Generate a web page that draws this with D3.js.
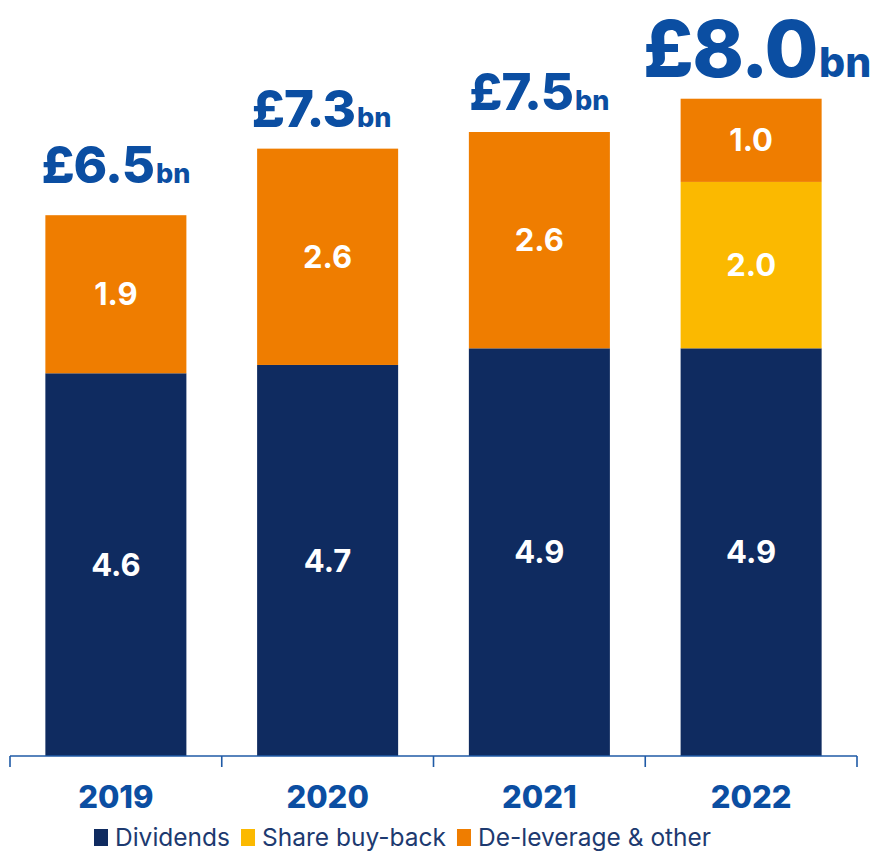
<!DOCTYPE html>
<html>
<head>
<meta charset="utf-8">
<script src="https://cdn.jsdelivr.net/npm/d3@7"></script>
<style>
  html, body { margin: 0; padding: 0; background: #fff; }
  svg { display: block; font-family: Inter, "Open Sans", sans-serif; }
</style>
</head>
<body>
<svg id="chart" width="885" height="853"></svg>
<script>
// Shareholder returns by year (£bn)
const years = ["2019", "2020", "2021", "2022"];
const dividends = [4.6, 4.7, 4.9, 4.9];
const buyback = [0, 0, 0, 2.0];
const deleverage = [1.9, 2.6, 2.6, 1.0];
const totals = ["£6.5", "£7.3", "£7.5", "£8.0"];
const seriesNames = ["Dividends", "Share buy-back", "De-leverage & other"];
const seriesColors = ["#0F2B60", "#FBB900", "#EF7D00"];

const svg = d3.select("#chart");
const baseY = 756;

const x = d3.scaleBand().domain(years).range([10, 857]).padding(0);
const barW = x.step() * 0.666;
const y = d3.scaleLinear().domain([0, 8]).range([baseY, baseY - 8 * 83.2]);

const rows = years.map((yr, i) => ({
  year: yr, Dividends: dividends[i], "Share buy-back": buyback[i], "De-leverage & other": deleverage[i]
}));
const stack = d3.stack().keys(seriesNames)(rows);
const color = d3.scaleOrdinal().domain(seriesNames).range(seriesColors);

const layers = svg.append("g").selectAll("g").data(stack).join("g")
  .attr("fill", d => color(d.key));

layers.selectAll("rect").data(d => d.filter(s => s[1] - s[0] > 0)).join("rect")
  .attr("x", d => x(d.data.year) + (x.step() - barW) / 2)
  .attr("width", barW)
  .attr("y", d => y(d[1]))
  .attr("height", d => y(d[0]) - y(d[1]));

// segment values
layers.selectAll("text").data(d => d.filter(s => s[1] - s[0] > 0)).join("text")
  .attr("x", d => x(d.data.year) + x.step() / 2)
  .attr("y", d => (y(d[0]) + y(d[1])) / 2)
  .attr("dy", "0.36em")
  .attr("text-anchor", "middle")
  .attr("fill", "#fff")
  .attr("font-size", 31)
  .attr("font-weight", 700)
  .text(d => (d[1] - d[0]).toFixed(1));

// axis baseline with ticks on the band edges
const axis = svg.append("g").attr("stroke", "#1F5AA6").attr("stroke-width", 1.6);
axis.append("line").attr("x1", 10).attr("x2", 857).attr("y1", baseY).attr("y2", baseY);
const edges = years.map(v => x(v)).concat([x(years[years.length - 1]) + x.step()]);
axis.selectAll("line.tick").data(edges).join("line").attr("class", "tick")
  .attr("x1", d => d).attr("x2", d => d).attr("y1", baseY).attr("y2", baseY + 11);

// year labels
svg.append("g").selectAll("text").data(years).join("text")
  .attr("x", d => x(d) + x.step() / 2)
  .attr("y", 808)
  .attr("text-anchor", "middle")
  .attr("fill", "#0B4EA2")
  .attr("font-size", 31)
  .attr("font-weight", 800)
  .text(d => d);

// total labels above each bar; the latest year is emphasised
const totalVals = years.map((_, i) => dividends[i] + buyback[i] + deleverage[i]);
const last = years.length - 1;
const tl = svg.append("g").selectAll("text").data(years).join("text")
  .attr("x", (d, i) => x(d) + x.step() / 2 + (i === last ? 6 : (i === 1 ? -6 : 0)))
  .attr("y", (d, i) => y(totalVals[i]) - (i === last ? 22 : (i === 0 ? 32 : 22)))
  .attr("text-anchor", "middle")
  .attr("fill", "#0B4EA2")
  .attr("font-weight", 800);
tl.append("tspan").attr("font-size", (d, i) => i === last ? 78 : 51)
  .attr("letter-spacing", (d, i) => i === last ? -1.5 : -1).text((d, i) => totals[i]);
tl.append("tspan").attr("dx", 2).attr("font-size", (d, i) => i === last ? 41 : 27).text("bn");

// legend
const lg = svg.append("g").attr("transform", "translate(94,837)");
let lx = 0;
seriesNames.forEach(name => {
  lg.append("rect").attr("x", lx).attr("y", -8).attr("width", 14).attr("height", 17)
    .attr("fill", color(name));
  const t = lg.append("text").attr("x", lx + 21).attr("y", 0).attr("dy", "0.36em")
    .attr("fill", "#1D3A70").attr("font-size", 24.5).attr("font-weight", 400).text(name);
  lx += 21 + t.node().getComputedTextLength() + 11;
});
</script>
</body>
</html>
